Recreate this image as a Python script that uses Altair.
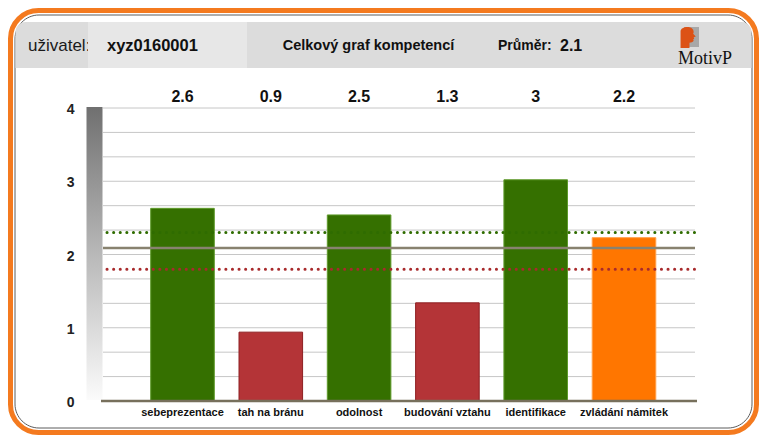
import altair as alt
import pandas as pd

# ---- data ----
categories = ["sebeprezentace", "tah na bránu", "odolnost", "budování vztahu", "identifikace", "zvládání námitek"]
values = [2.63, 0.94, 2.54, 1.34, 3.02, 2.23]
value_labels = ["2.6", "0.9", "2.5", "1.3", "3", "2.2"]
average_value = 2.09
average_label = "2.1"
upper_value = 2.3
lower_value = 1.8
y_ticks = [0, 1, 2, 3, 4]
grid_values = [0.3333, 0.6667, 1, 1.3333, 1.6667, 2, 2.3333, 2.6667, 3, 3.3333, 3.6667, 4]
user_label = "uživatel:"
user_id = "xyz0160001"
title_text = "Celkový graf kompetencí"
avg_title = "Průměr:"
logo_text = "MotivP"

FONT = "Liberation Sans"
GREEN = "#357000"
RED = "#b43437"
ORANGE = "#ff7600"

df = pd.DataFrame({"kategorie": categories, "hodnota": values, "popisek": value_labels})
grid_df = pd.DataFrame({"hodnota": grid_values})
one = pd.DataFrame({"k": [0]})

y_scale = alt.Scale(domain=[0, 4], nice=False, zero=True)
x_scale = alt.Scale(range=[35.35, 565.15], paddingInner=0.28, paddingOuter=0.14)

y_axis = alt.Axis(values=y_ticks, grid=False, domain=False, ticks=False, title=None, labelPadding=29,
                  labelFontSize=14, labelFontWeight="bold", labelColor="#222222", labelFont=FONT,
                  labelOverlap=False, labelOffset=1.5, zindex=2, format="d")
x_axis = alt.Axis(title=None, domain=False, ticks=False, labelAngle=0, labelFontSize=11,
                  labelFontWeight="bold", labelColor="#111", labelPadding=5, labelFont=FONT,
                  grid=False, labelOverlap=False, zindex=2)


def rect(x, x2, y, y2, **kw):
    return alt.Chart().mark_rect(**kw).encode(
        x=alt.value(x), x2=alt.value(x2), y=alt.value(y), y2=alt.value(y2))


def label(txt, x, y, **kw):
    return alt.Chart().mark_text(text=txt, **kw).encode(x=alt.value(x), y=alt.value(y))


# frame
outer = rect(-92.5, 653.5, -97.5, 324.5, fill="white", stroke="#f47a1f", strokeWidth=5, cornerRadius=28)
inner = rect(-88, 649, -93, 320, fillOpacity=0, stroke="#5c5c5c", strokeWidth=1, cornerRadius=24)
band = rect(-87.5, 648.5, -86, -40, color="#dcdcdc", cornerRadiusTopLeft=10, cornerRadiusTopRight=10)
t_user = label(user_label, -75, -62, align="left", baseline="middle", font=FONT, fontSize=17, color="#1a1a1a")
userbox = rect(-15, 144, -86, -40, color="#e7e7e7")
t_id = label(user_id, 4, -62, align="left", baseline="middle", font=FONT, fontSize=16.5, fontWeight="bold", color="#111")
t_title = label(title_text, 265.5, -62, align="center", baseline="middle", font=FONT, fontSize=14.5, fontWeight="bold", color="#111")
t_avg = label(avg_title, 395, -62, align="left", baseline="middle", font=FONT, fontSize=14, fontWeight="bold", color="#111")
t_avgv = label(average_label, 457, -62, align="left", baseline="middle", font=FONT, fontSize=16, fontWeight="bold", color="#111")
logo_sq = rect(581, 596, -81, -61, color="#a8a8a8")
head_path = ("M -0.9 1 L -0.9 -0.55 C -0.9 -0.85 -0.6 -1 -0.25 -1 C 0.15 -1 0.35 -0.8 0.35 -0.5 "
             "L 0.3 -0.35 L 0.55 -0.1 L 0.35 -0.02 L 0.4 0.12 L 0.3 0.2 L 0.35 0.32 "
             "C 0.3 0.45 0.1 0.5 -0.05 0.5 L -0.05 1 Z")
logo_head = alt.Chart().mark_point(shape=head_path, filled=True, fill="#dc5216", strokeWidth=0, size=441, opacity=1).encode(
    x=alt.value(587), y=alt.value(-70.5))
t_logo = label(logo_text, 602, -44, align="center", baseline="alphabetic", font="Liberation Serif", fontSize=18, color="#111")

# gradient bar at the axis
grad = alt.LinearGradient(gradient="linear", x1=0, x2=0, y1=0, y2=1,
                          stops=[alt.GradientStop(color="#707070", offset=0),
                                 alt.GradientStop(color="#b8b8b8", offset=0.5),
                                 alt.GradientStop(color="#fbfbfb", offset=1)])
gbar = rect(-16.5, -0.5, -1, 292, color=grad)

# grid lines
grid = alt.Chart(grid_df).mark_rule(color="#c6c6c6", strokeWidth=1).encode(
    y=alt.Y("hodnota:Q", scale=y_scale, axis=y_axis), x=alt.value(0), x2=alt.value(592))

# bars
bars = alt.Chart(df).mark_bar(strokeWidth=1).encode(
    x=alt.X("kategorie:N", sort=None, scale=x_scale, axis=x_axis),
    y=alt.Y("hodnota:Q", scale=y_scale, axis=y_axis),
    color=alt.Color("hodnota:Q", legend=None,
                    scale=alt.Scale(type="threshold", domain=[lower_value, upper_value], range=[RED, ORANGE, GREEN])),
    stroke=alt.Stroke("hodnota:Q", legend=None,
                      scale=alt.Scale(type="threshold", domain=[lower_value, upper_value],
                                      range=["#8e1f22", "#ffa04a", "#5e9a2a"])),
)

vals = alt.Chart(df).mark_text(font=FONT, fontSize=16, fontWeight="bold", color="#111", baseline="middle").encode(
    x=alt.X("kategorie:N", sort=None, scale=x_scale, axis=x_axis),
    y=alt.value(-11),
    text="popisek:N",
)

avg_rule = alt.Chart().mark_rule(color="#88826f", strokeWidth=2.5).encode(
    y=alt.datum(average_value), x=alt.value(0), x2=alt.value(592))
up_rule = alt.Chart().mark_rule(color="#2f6c00", strokeWidth=3, strokeDash=[0.1, 6.5], strokeCap="round").encode(
    y=alt.datum(upper_value), x=alt.value(4), x2=alt.value(592))
low_rule = alt.Chart().mark_rule(color="#a82a2c", strokeWidth=3, strokeDash=[0.1, 6.5], strokeCap="round").encode(
    y=alt.datum(lower_value), x=alt.value(4), x2=alt.value(592))
base_rule = alt.Chart().mark_rule(color="#77705c", strokeWidth=2.5).encode(
    y=alt.datum(0), x=alt.value(-2), x2=alt.value(594))

chart = alt.layer(
    outer, inner, band, t_user, userbox, t_id, t_title, t_avg, t_avgv, logo_sq, logo_head, t_logo,
    gbar, grid, bars, avg_rule, up_rule, low_rule, base_rule, vals,
    data=one,
).properties(
    width=592, height=293,
    autosize=alt.AutoSizeParams(type="none"),
    padding={"left": 95, "top": 100, "right": 64, "bottom": 34},
    background="white",
).configure_view(stroke=None)

chart.save("out.html", embed_options={"renderer": "svg", "actions": False})
